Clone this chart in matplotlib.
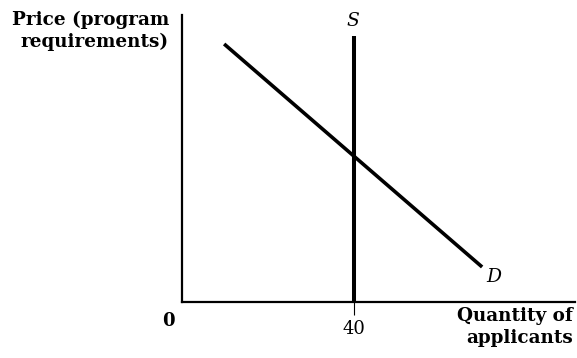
import matplotlib
matplotlib.use("Agg")
import matplotlib.pyplot as plt

# Data
demand_q = [9.8, 69.8]
demand_p = [89.9, 12.2]
supply_q = [40, 40]
supply_p = [0, 92.7]
x_ticks = [40]
x_tick_labels = ["40"]

plt.rcParams['font.family'] = ['DejaVu Serif']

fig = plt.figure(figsize=(5.77, 3.58), dpi=100)
ax = fig.add_axes([182/577, 56/358, 393/577, 287/358])
ax.set_xlim(0, 91.4)
ax.set_ylim(0, 100)

ax.plot(demand_q, demand_p, color='black', lw=2.6, solid_capstyle='butt')
ax.plot(supply_q, supply_p, color='black', lw=2.9, solid_capstyle='butt')

for s in ['top', 'right']:
    ax.spines[s].set_visible(False)
for s in ['left', 'bottom']:
    ax.spines[s].set_linewidth(1.6)

ax.set_yticks([])
ax.set_xticks(x_ticks)
ax.set_xticklabels(x_tick_labels, fontsize=13)
ax.tick_params(axis='x', length=9.5, width=0.8, pad=3.5)

ax.text(supply_q[1] - 0.3, supply_p[1] + 2.0, "S", style='italic', fontsize=13.5,
        ha='center', va='bottom')
ax.text(demand_q[1] + 0.9, demand_p[1] - 3.5, "D", style='italic', fontsize=13.5,
        ha='left', va='center')

fig.text(169/577, 1 - 31/358, "Price (program\nrequirements)", fontsize=13.2, fontweight='bold',
         ha='right', va='center', linespacing=1.25)
fig.text(573/577, 1 - 327/358, "Quantity of\napplicants", fontsize=13.2, fontweight='bold',
         ha='right', va='center', linespacing=1.25)
fig.text(168/577, 1 - 321/358, "0", fontsize=13, fontweight='bold', ha='center', va='center')

fig.savefig("out.png", dpi=100)
